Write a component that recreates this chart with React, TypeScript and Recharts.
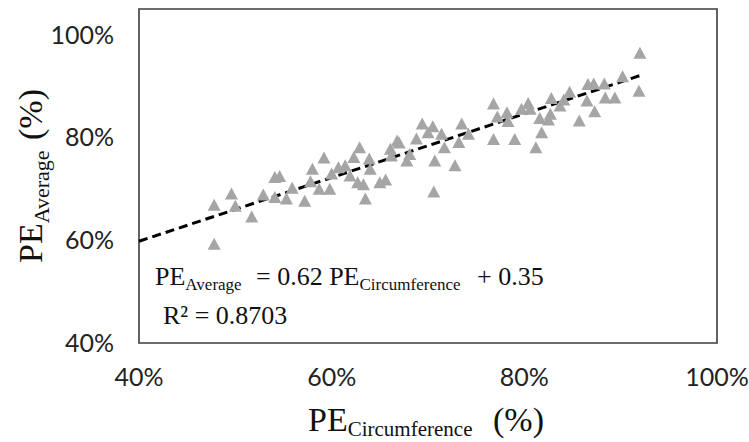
import React from 'react';
import { ScatterChart, Scatter, XAxis, YAxis, ReferenceArea, ReferenceLine } from 'recharts';

// PE circumference (%) vs PE average (%)
const peCircumference = [
  47.8, 47.8, 49.6, 50.0, 51.7, 52.9, 54.1, 54.6, 54.1, 55.3, 55.9, 57.2, 58.0, 59.2, 57.8, 58.7, 59.8, 60.0,
  60.7, 61.4, 62.3, 62.9, 61.9, 62.7, 63.3, 63.5, 63.9, 64.0, 65.0, 65.6, 66.1, 66.8, 67.0, 66.2, 67.8, 68.1,
  68.8, 69.4, 70.5, 70.0, 70.7, 71.4, 71.7, 70.6, 72.8, 73.5, 73.2, 74.2,
  76.8, 76.8, 77.2, 78.2, 78.3, 79.0, 79.7, 80.4, 80.6, 81.2, 81.8, 81.6, 82.5, 82.7, 82.8, 83.7, 84.1, 84.7,
  85.7, 86.6, 87.2, 86.5, 87.3, 88.3, 88.4, 89.4, 90.2, 92.0, 91.9,
];
const peAverage = [
  66.9, 59.3, 69.1, 66.7, 64.6, 68.9, 72.3, 72.5, 68.4, 68.1, 70.2, 67.7, 73.9, 76.1, 71.5, 70.0, 70.0, 73.0,
  74.2, 74.6, 76.2, 78.1, 72.6, 71.3, 70.9, 68.1, 75.9, 73.9, 71.3, 71.8, 77.8, 79.4, 79.0, 76.5, 75.5, 76.8,
  79.8, 82.7, 82.2, 81.0, 75.5, 80.7, 78.1, 69.5, 74.6, 82.7, 79.1, 80.7,
  86.6, 79.7, 84.1, 84.9, 83.2, 79.7, 85.6, 86.7, 85.6, 78.1, 81.0, 83.8, 83.5, 84.6, 87.7, 86.2, 87.4, 88.9,
  83.3, 90.4, 90.5, 87.2, 85.1, 90.5, 87.8, 87.8, 91.9, 96.5, 89.1,
];

const xTicks = [40, 60, 80, 100];
const yTicks = [40, 60, 80, 100];

// linear fit from the figure: PE_Average = 0.62 PE_Circumference + 0.35
const slope = 0.62;
const intercept = 35;

const points = peCircumference.map((x, i) => ({ x, y: peAverage[i] }));
const trendEnd = Math.max(...peCircumference);
const trendSegment = [
  { x: 40, y: slope * 40 + intercept },
  { x: trendEnd, y: slope * trendEnd + intercept },
];

const tickFont = { fontFamily: 'Lato', fontSize: 25, fill: '#222' };
const serif = 'Liberation Serif';

function Triangle(props: any) {
  const { cx, cy } = props;
  const w = 13;
  const h = 12;
  return (
    <path
      d={`M${cx},${cy - h / 2}L${cx + w / 2},${cy + h / 2}L${cx - w / 2},${cy + h / 2}Z`}
      fill="#A5A5A5"
    />
  );
}

export default function App() {
  return (
    <div style={{ position: 'absolute', left: 0, top: 0, width: 749, height: 442, background: '#fff' }}>
      <ScatterChart width={749} height={442} margin={{ top: 9, right: 32, bottom: 39, left: 79 }}>
        <XAxis
          type="number"
          dataKey="x"
          domain={[40, 100]}
          ticks={xTicks}
          height={60}
          tickSize={0}
          tickMargin={25}
          axisLine={false}
          tickLine={false}
          tick={tickFont}
          tickFormatter={(v: number) => `${v}%`}
        />
        <YAxis
          type="number"
          dataKey="y"
          domain={[40, 105]}
          ticks={yTicks}
          width={60}
          tickSize={0}
          tickMargin={25}
          axisLine={false}
          tickLine={false}
          tick={tickFont}
          tickFormatter={(v: number) => `${v}%`}
        />
        <ReferenceArea x1={40} x2={100} y1={40} y2={105} fill="none" stroke="#3c3c3c" strokeWidth={1.6} />
        <Scatter data={points} shape={<Triangle />} isAnimationActive={false} />
        <ReferenceLine segment={trendSegment} stroke="#000" strokeWidth={3} strokeDasharray="9 5" />
      </ScatterChart>

      <svg
        width={749}
        height={442}
        style={{ position: 'absolute', left: 0, top: 0, pointerEvents: 'none' }}
      >
        {/* equation inside the plot */}
        <text fontFamily={serif} fill="#111" fontSize={26}>
          <tspan x={155} y={285}>PE</tspan>
          <tspan fontSize={17} dy={5}>Average</tspan>
          <tspan x={256} y={285}>= 0.62 PE</tspan>
          <tspan fontSize={17} dy={5}>Circumference</tspan>
          <tspan x={477} y={285}>+ 0.35</tspan>
        </text>
        <text fontFamily={serif} fill="#111" fontSize={26} x={163} y={324}>
          R² = 0.8703
        </text>

        {/* x axis title */}
        <text fontFamily={serif} fill="#111" fontSize={34}>
          <tspan x={308} y={431}>PE</tspan>
          <tspan fontSize={21} dy={5}>Circumference</tspan>
          <tspan x={493} y={431}>(%)</tspan>
        </text>

        {/* y axis title */}
        <text fontFamily={serif} fill="#111" fontSize={34} transform="translate(42,263) rotate(-90)">
          <tspan x={0} y={0}>PE</tspan>
          <tspan fontSize={22} dy={7}>Average</tspan>
          <tspan x={123} y={0}>(%)</tspan>
        </text>
      </svg>
    </div>
  );
}
